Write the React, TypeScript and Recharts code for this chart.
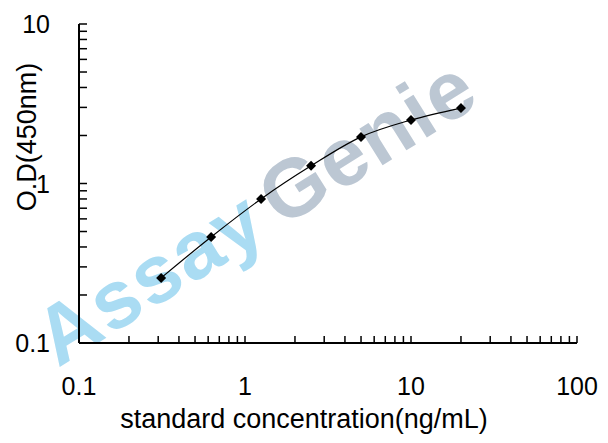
import React from 'react';
import { LineChart, Line, XAxis, YAxis } from 'recharts';

const concentrations = [0.3125, 0.625, 1.25, 2.5, 5, 10, 20];
const odValues = [0.256, 0.462, 0.8, 1.29, 1.96, 2.5, 2.97];
const xTicks = [0.1, 0.2, 0.3, 0.4, 0.5, 0.6, 0.7, 0.8, 0.9, 1, 2, 3, 4, 5, 6, 7, 8, 9, 10, 20, 30, 40, 50, 60, 70, 80, 90, 100];
const yTicks = [0.1, 0.2, 0.3, 0.4, 0.5, 0.6, 0.7, 0.8, 0.9, 1, 2, 3, 4, 5, 6, 7, 8, 9, 10];
const majorLabels = [0.1, 1, 10, 100];

const data = concentrations.map((c, i) => ({ x: c, y: odValues[i] }));

const FONT = '"Liberation Sans", Arial, sans-serif';

const isMajor = (v: number) => majorLabels.some((m) => Math.abs(m - v) < 1e-9);

const XTick = (props: any) => {
  const { x, y, payload } = props;
  const v = payload.value;
  return (
    <g>
      <line x1={x} x2={x} y1={y} y2={y - 7} stroke="#000" strokeWidth={1.5} />
      {isMajor(v) && (
        <text x={x} y={y + 52} textAnchor="middle" fontFamily={FONT} fontSize={25} fill="#000">
          {String(v)}
        </text>
      )}
    </g>
  );
};

const YTick = (props: any) => {
  const { x, y, payload } = props;
  const v = payload.value;
  return (
    <g>
      <line x1={x} x2={x + 8} y1={y} y2={y} stroke="#000" strokeWidth={1.5} />
      {isMajor(v) && (
        <text x={x - 29} y={y + 9} textAnchor="end" fontFamily={FONT} fontSize={25} fill="#000">
          {String(v)}
        </text>
      )}
    </g>
  );
};

const Diamond = (props: any) => {
  const { cx, cy } = props;
  if (cx == null || cy == null) return null;
  const r = 5;
  return <polygon points={`${cx},${cy - r} ${cx + r},${cy} ${cx},${cy + r} ${cx - r},${cy}`} fill="#000" />;
};

export default function App() {
  return (
    <div style={{ position: 'absolute', left: 0, top: 0, width: 608, height: 443, background: '#fff' }}>
      <svg width={608} height={443} style={{ position: 'absolute', left: 0, top: 0 }}>
        <g transform="translate(58,368) rotate(-32)">
          <text x={0} y={0} fontFamily={FONT} fontWeight="bold" fontSize={82} letterSpacing={2}>
            <tspan fill="#aadcf3">Assay</tspan>
            <tspan fill="#bcc7d3" dx={12}>Genie</tspan>
          </text>
        </g>
        <text x={304} y={428} textAnchor="middle" fontFamily={FONT} fontSize={27} fill="#000">
          standard concentration(ng/mL)
        </text>
        <text
          transform="translate(36,137) rotate(-90)"
          x={0}
          y={0}
          textAnchor="middle"
          fontFamily={FONT}
          fontSize={27}
          fill="#000"
        >
          O.D(450nm)
        </text>
      </svg>
      <div style={{ position: 'absolute', left: 0, top: 0 }}>
        <LineChart
          width={608}
          height={443}
          data={data}
          margin={{ top: 24, right: 31, bottom: 99, left: 78 }}
          style={{ background: 'transparent' }}
        >
          <XAxis
            dataKey="x"
            type="number"
            scale="log"
            domain={[0.1, 100]}
            ticks={xTicks}
            interval={0}
            allowDataOverflow
            height={1}
            tickSize={0}
            tickMargin={0}
            tick={<XTick />}
            tickLine={false}
            axisLine={{ stroke: '#000', strokeWidth: 2 }}
          />
          <YAxis
            dataKey="y"
            type="number"
            scale="log"
            domain={[0.1, 10]}
            ticks={yTicks}
            interval={0}
            allowDataOverflow
            width={1}
            tickSize={0}
            tickMargin={0}
            tick={<YTick />}
            tickLine={false}
            axisLine={{ stroke: '#000', strokeWidth: 2 }}
          />
          <Line
            type="monotone"
            dataKey="y"
            stroke="#000"
            strokeWidth={1.2}
            dot={<Diamond />}
            activeDot={false}
            isAnimationActive={false}
          />
        </LineChart>
      </div>
    </div>
  );
}
